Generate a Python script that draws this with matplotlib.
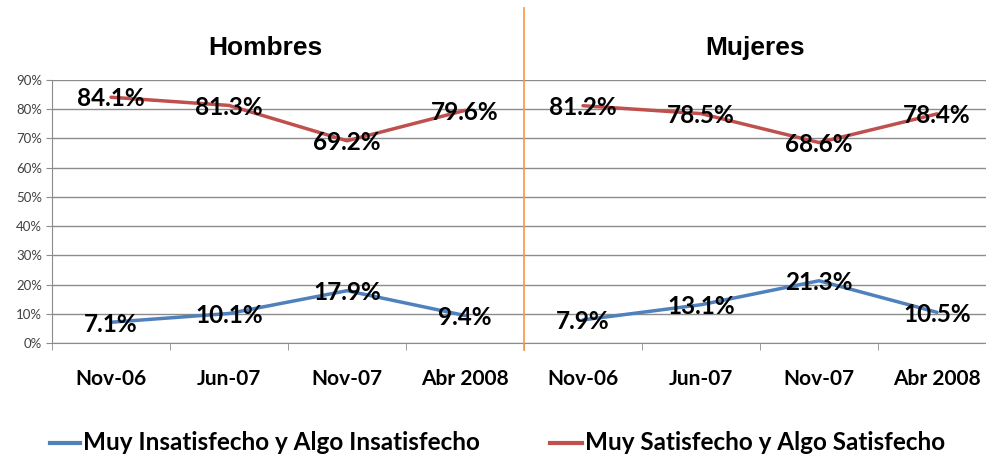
import matplotlib
matplotlib.use("Agg")
import matplotlib.pyplot as plt
from matplotlib.lines import Line2D
import numpy as np

categories = ["Nov-06", "Jun-07", "Nov-07", "Abr 2008"]
groups = ["Hombres", "Mujeres"]
insatisfecho = {"Hombres": [7.1, 10.1, 17.9, 9.4], "Mujeres": [7.9, 13.1, 21.3, 10.5]}
satisfecho = {"Hombres": [84.1, 81.3, 69.2, 79.6], "Mujeres": [81.2, 78.5, 68.6, 78.4]}
series_names = ["Muy Insatisfecho y Algo Insatisfecho", "Muy Satisfecho y Algo Satisfecho"]
yticks = [0, 10, 20, 30, 40, 50, 60, 70, 80, 90]

BLUE = "#4F81BD"
RED = "#C0504D"
ORANGE = "#F79646"
GRID = "#8C8C8C"
FONT = "Lato"
WT = "bold"

W, H = 987, 459
fig = plt.figure(figsize=(W / 100, H / 100), dpi=100)
ax_l, ax_b, ax_r, ax_t = 52, 343, 996, 80
ax = fig.add_axes([ax_l / W, 1 - ax_b / H, (ax_r - ax_l) / W, (ax_b - ax_t) / H])

n = len(categories)
allcats = categories * len(groups)
ax.set_xlim(-0.5, len(allcats) - 0.5)
ax.set_ylim(0, 90)

SEP = 524
title_x = [(0 + SEP) / 2 + 3, (SEP + W) / 2]

for gi, g in enumerate(groups):
    xs = np.arange(n) + gi * n
    for vals, col in ((insatisfecho[g], BLUE), (satisfecho[g], RED)):
        ax.plot(xs, vals, color=col, lw=2.5, solid_capstyle="round", zorder=3)
        for x, v in zip(xs, vals):
            ax.text(x, v - 0.6, f"{v:.1f}%", ha="center", va="center",
                    fontsize=17.5, fontweight=WT, family=FONT, color="black", zorder=4)
    fig.text(title_x[gi] / W, 1 - 48 / H, g,
             ha="center", va="center", fontsize=19, fontweight="bold",
             family="Liberation Sans")

ax.set_yticks(yticks)
ax.set_yticklabels([f"{t}%" for t in yticks], family=FONT, fontsize=9.5, color="#404040")
ax.yaxis.grid(True, color=GRID, lw=1)
ax.set_axisbelow(True)
ax.tick_params(axis="y", length=4, color=GRID, pad=3)

ax.set_xticks(np.arange(len(allcats)))
ax.set_xticklabels(allcats, family=FONT, fontsize=15, fontweight=WT)
ax.set_xticks(np.arange(len(allcats) + 1) - 0.5, minor=True)
ax.tick_params(axis="x", which="major", length=0, pad=19)
ax.tick_params(axis="x", which="minor", length=5, color=GRID)

for s in ("top", "right"):
    ax.spines[s].set_visible(False)
ax.spines["left"].set_color(GRID)
ax.spines["bottom"].set_color(GRID)

# separator
fig.add_artist(Line2D([SEP / W, SEP / W], [1 - 8 / H, 1 - 350 / H], color=ORANGE, lw=1.2))

# legend
leg_y = 1 - 443 / H
for (x0, x1, tx), name, col in zip([(50, 80, 83), (550, 582, 585)], series_names, (BLUE, RED)):
    fig.add_artist(Line2D([x0 / W, x1 / W], [leg_y, leg_y], color=col, lw=3))
    fig.text(tx / W, leg_y, name, ha="left", va="center", fontsize=17.5,
             fontweight=WT, family=FONT)

fig.savefig("out.png", dpi=100)
